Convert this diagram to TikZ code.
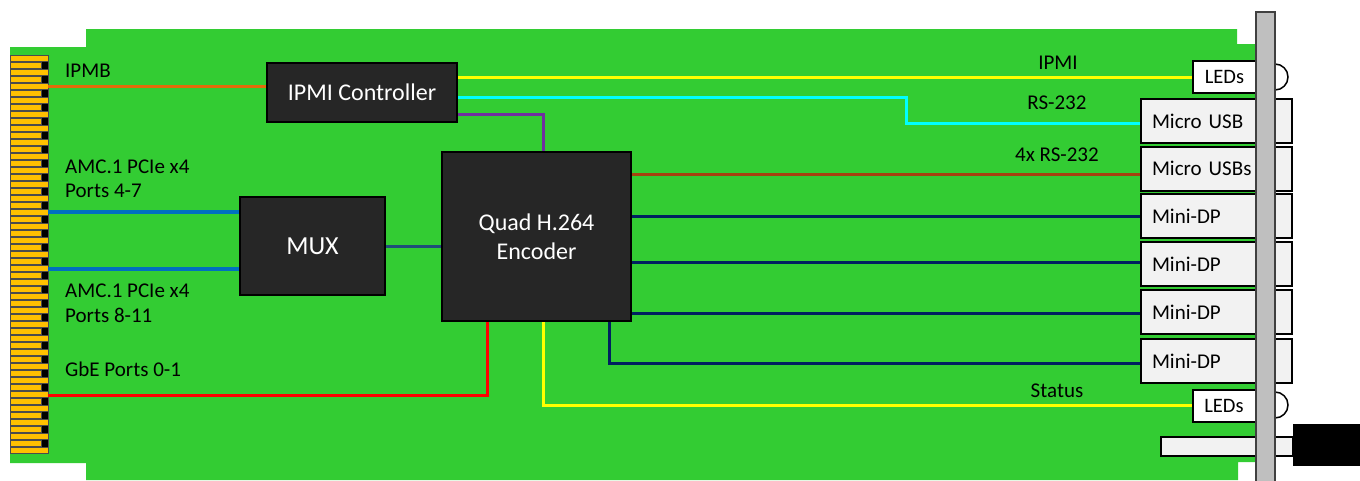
\documentclass[tikz,border=0pt]{standalone}
\usepackage{fontspec}
\setmainfont{Carlito}
\definecolor{board}{HTML}{33CC33}
\definecolor{chip}{HTML}{262626}
\definecolor{gold}{HTML}{FFC000}
\definecolor{portgray}{HTML}{F2F2F2}
\definecolor{spine}{HTML}{BFBFBF}
\definecolor{ipmb}{HTML}{E36C0A}
\definecolor{pcie}{HTML}{0070C0}
\definecolor{serial}{HTML}{A5420F}
\definecolor{dp}{HTML}{002060}
\definecolor{bus}{HTML}{1F4E79}
\definecolor{mgmt}{HTML}{7030A0}
\definecolor{uart}{HTML}{00FFFF}
\definecolor{led}{HTML}{FFFF00}
\definecolor{gbe}{HTML}{FF0000}
\tikzset{
  chipbox/.style={draw=black,line width=2pt,fill=chip,text=white,align=center,inner sep=0pt,font=\fontsize{24}{29}\selectfont},
  portbox/.style={draw=black,line width=2pt,fill=portgray,minimum height=44pt,inner xsep=11pt,text width=129pt,align=left,font=\fontsize{21}{24}\selectfont},
  ledbox/.style={draw=black,line width=2pt,fill=white,minimum width=63pt,minimum height=32pt,inner sep=0pt,font=\fontsize{20.5}{24}\selectfont},
  lbl/.style={inner sep=0pt,font=\fontsize{21}{24}\selectfont},
  wire/.style={line width=3pt},
}
\begin{document}
\begin{tikzpicture}[x=1pt,y=-1pt]
\useasboundingbox (0,0) rectangle (1360,480);
\fill[board] (10,47) -- (86,47) -- (86,29) -- (1237,29) -- (1237,44) -- (1256,44) -- (1256,462) -- (1238,462) -- (1238,480) -- (86,480) -- (86,463) -- (10,463) -- cycle;

\node[draw=black!70,fill=gold,minimum width=38pt,minimum height=398pt,inner sep=0pt] (conn) at (29,254) {};
\foreach \k in {0,...,28}
  \filldraw[fill=gold,draw=black!70,line width=0.5pt] (10,55+14*\k) rectangle (48,61.7+14*\k);
\foreach \k in {0,...,27} {
  \fill[black] (41,62+14*\k) rectangle (48,69+14*\k);
  \filldraw[fill=gold,draw=black!70,line width=0.5pt] (10,62.7+14*\k) rectangle (41,68.7+14*\k);
}

\node[chipbox,minimum width=190pt,minimum height=59pt] (ipmi) at (362,92.5) {IPMI Controller};
\node[chipbox,minimum width=145pt,minimum height=98pt,font=\fontsize{26}{30}\selectfont] (mux) at (312.5,246) {MUX};
\node[chipbox,minimum width=189pt,minimum height=169pt] (enc) at (536.5,236.5) {Quad H.264\\Encoder};

\filldraw[fill=white,draw=black,line width=1.5pt] (1275,64) arc (-90:90:13);
\filldraw[fill=white,draw=black,line width=1.5pt] (1275,392) arc (-90:90:13);

\node[ledbox] (ledtop) at (1224.5,77) {LEDs};
\node[ledbox] (ledbot) at (1224,405.5) {LEDs};
\node[portbox] (usb) at (1216.5,121) {Micro USB};
\node[portbox] (usbs) at (1216.5,168.5) {Micro USBs};
\node[portbox] (dpa) at (1216.5,216) {Mini-DP};
\node[portbox] (dpb) at (1216.5,264) {Mini-DP};
\node[portbox] (dpc) at (1216.5,312) {Mini-DP};
\node[portbox] (dpd) at (1216.5,361) {Mini-DP};
\node[draw=black,line width=2pt,fill=portgray,minimum width=132pt,minimum height=19pt,inner sep=0pt] (latch) at (1227,446.5) {};
\node[fill=black,minimum width=67pt,minimum height=42pt,inner sep=0pt] (handle) at (1326.5,445) {};

\draw[wire,ipmb] (conn.east |- 0,86) -- (ipmi.west |- 0,86);
\draw[wire,led] (ipmi.east |- ledtop.west) -- (ledtop.west);
\draw[wire,uart] (ipmi.east |- 0,97) -- (906,97) |- (usb.west |- 0,123);
\draw[wire,mgmt] (ipmi.east |- 0,114) -| (enc.north -| 543.5,0);
\draw[wire,serial] (enc.east |- 0,174) -- (usbs.west |- 0,174);
\draw[wire,pcie,line width=4pt] (conn.east |- 0,212) -- (mux.west |- 0,212);
\draw[wire,pcie,line width=4pt] (conn.east |- 0,269) -- (mux.west |- 0,269);
\draw[wire,bus] (mux.east) -- (enc.west |- mux.east);
\draw[wire,dp] (enc.east |- dpa.west) -- (dpa.west);
\draw[wire,dp] (enc.east |- 0,262) -- (dpb.west |- 0,262);
\draw[wire,dp] (enc.east |- 0,313) -- (dpc.west |- 0,313);
\draw[wire,dp] (enc.south -| 609,0) |- (dpd.west |- 0,363);
\draw[wire,led] (enc.south -| 543.5,0) |- (ledbot.west);
\draw[wire,gbe] (enc.south -| 487.5,0) |- (conn.east |- 0,395);

\filldraw[fill=spine,draw=black!75,line width=2pt] (1256,12) rectangle (1275,482);

\node[lbl,anchor=west] (lipmb) at (65,71) {IPMB};
\node[lbl,anchor=west] (lamca) at (65,167) {AMC.1 PCIe x4};
\node[lbl,anchor=west] (lporta) at (65,191) {Ports 4-7};
\node[lbl,anchor=west] (lamcb) at (65,291) {AMC.1 PCIe x4};
\node[lbl,anchor=west] (lportb) at (65,315) {Ports 8-11};
\node[lbl,anchor=west] (lgbe) at (65,369.5) {GbE Ports 0-1};
\node[lbl] (lipmi) at (1058,63) {IPMI};
\node[lbl] (lrs) at (1057,103) {RS-232};
\node[lbl] (lrsq) at (1057,155) {4x RS-232};
\node[lbl] (lstatus) at (1057,391) {Status};
\end{tikzpicture}
\end{document}
